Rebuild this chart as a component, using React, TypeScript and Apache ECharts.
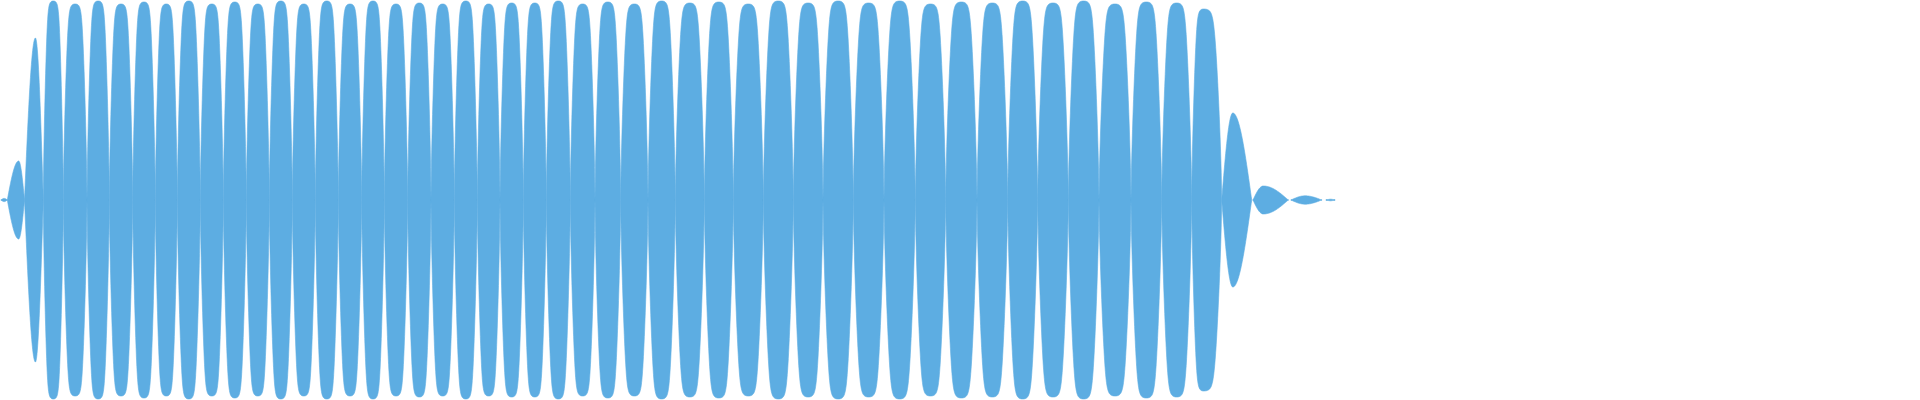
import React, { useEffect, useRef } from "react";
import * as echarts from "echarts";

// Waveform read as a sequence of lobes (beats) of a fast oscillating signal.
// x in time units (ms), y normalised amplitude in [-1, 1].
const lobeStart = [
  1, 7.3, 24.5, 43.3, 63.3, 87, 109.3, 132.7, 155.3, 177.3,
  200.3, 223.3, 246.3, 269.3, 292.3, 315.3, 338.3, 361.7, 384.3, 407.7,
  431, 454.3, 477.3, 500, 523.3, 546.3, 570.3, 595, 620.7, 648,
  675.3, 704.3, 733.3, 763.3, 793.3, 823, 853.3, 884, 915.3, 945.7,
  977, 1007.7, 1037.7, 1068.3, 1099, 1131, 1161.7, 1191.7, 1221.7, 1253,
  1291, 1326,
];
const lobeEnd = [
  7.3, 24.5, 43.3, 63.3, 87, 109.3, 132.7, 155.3, 177.3, 200.3,
  223.3, 246.3, 269.3, 292.3, 315.3, 338.3, 361.7, 384.3, 407.7, 431,
  454.3, 477.3, 500, 523.3, 546.3, 570.3, 595, 620.7, 648, 675.3,
  704.3, 733.3, 763.3, 793.3, 823, 853.3, 884, 915.3, 945.7, 977,
  1007.7, 1037.7, 1068.3, 1099, 1131, 1161.7, 1191.7, 1221.7, 1251.7, 1288.3,
  1321.7, 1335,
];
const lobeAmp = [
  0.008, 0.195, 0.81, 0.995, 0.98, 0.995, 0.98, 0.99, 0.98, 0.995,
  0.98, 0.99, 0.98, 0.995, 0.98, 0.995, 0.98, 0.995, 0.98, 0.985,
  0.98, 0.995, 0.98, 0.985, 0.985, 0.995, 0.98, 0.99, 0.98, 0.995,
  0.985, 0.99, 0.98, 0.995, 0.985, 0.995, 0.985, 0.995, 0.98, 0.99,
  0.985, 0.995, 0.985, 0.995, 0.98, 0.99, 0.985, 0.955, 0.435, 0.07,
  0.021, 0.004,
];
// position of each lobe's peak as a fraction of its width
const lobePeak = [
  0.5, 0.66, 0.58, 0.5, 0.5, 0.5, 0.5, 0.5, 0.5, 0.5,
  0.5, 0.5, 0.5, 0.5, 0.5, 0.5, 0.5, 0.5, 0.5, 0.5,
  0.5, 0.5, 0.5, 0.5, 0.5, 0.5, 0.5, 0.5, 0.5, 0.5,
  0.5, 0.5, 0.5, 0.5, 0.5, 0.5, 0.5, 0.5, 0.5, 0.5,
  0.5, 0.5, 0.5, 0.5, 0.5, 0.5, 0.5, 0.4, 0.37, 0.29,
  0.46, 0.5,
];

const X_MIN = 0;
const X_MAX = 1920;
const COLOR = "#5DADE2";

export default function App() {
  const ref = useRef<HTMLDivElement>(null);

  useEffect(() => {
    if (!ref.current) return;
    document.body.style.margin = "0";
    const chart = echarts.init(ref.current, null, { renderer: "svg" });

    const data = lobeStart.map((s, i) => [s, lobeEnd[i], lobeAmp[i], lobePeak[i]]);

    const STEPS = 60;
    const K = 1.3;
    const P = 0.7;
    const M = 10;
    const softClip = (f: number) => f / Math.pow(1 + Math.pow(f, M), 1 / M);
    const NORM = softClip(K);

    const renderItem = (params: any, api: any) => {
      const x0 = api.value(0);
      const x1 = api.value(1);
      const amp = api.value(2);
      const c = api.value(3);
      const full = amp > 0.9;
      const env = (u: number) => {
        const phi = u < c ? 0.5 * (u / c) : 0.5 + 0.5 * ((u - c) / (1 - c));
        const s = Math.max(0, Math.sin(Math.PI * phi));
        if (full) return (amp * softClip(K * Math.pow(s, P))) / NORM;
        return amp * s;
      };
      const top: number[][] = [];
      const bottom: number[][] = [];
      for (let k = 0; k <= STEPS; k++) {
        const u = k / STEPS;
        const x = x0 + (x1 - x0) * u;
        const e = Math.max(env(u), 0.0025);
        top.push(api.coord([x, e]));
        bottom.push(api.coord([x, -e]));
      }
      const points = top.concat(bottom.reverse());
      return {
        type: "polygon",
        shape: { points },
        style: { fill: COLOR, stroke: COLOR, lineWidth: 0.6 },
      };
    };

    chart.setOption({
      animation: false,
      grid: { left: 0, right: 0, top: 0, bottom: 0 },
      xAxis: { type: "value", min: X_MIN, max: X_MAX, show: false },
      yAxis: { type: "value", min: -1, max: 1, show: false },
      tooltip: { show: false },
      series: [
        {
          type: "custom",
          name: "waveform",
          renderItem,
          data,
          encode: { x: [0, 1], y: 2 },
          silent: true,
        },
      ],
    });

    return () => chart.dispose();
  }, []);

  return <div ref={ref} style={{ width: 1920, height: 400, background: "#ffffff" }} />;
}
